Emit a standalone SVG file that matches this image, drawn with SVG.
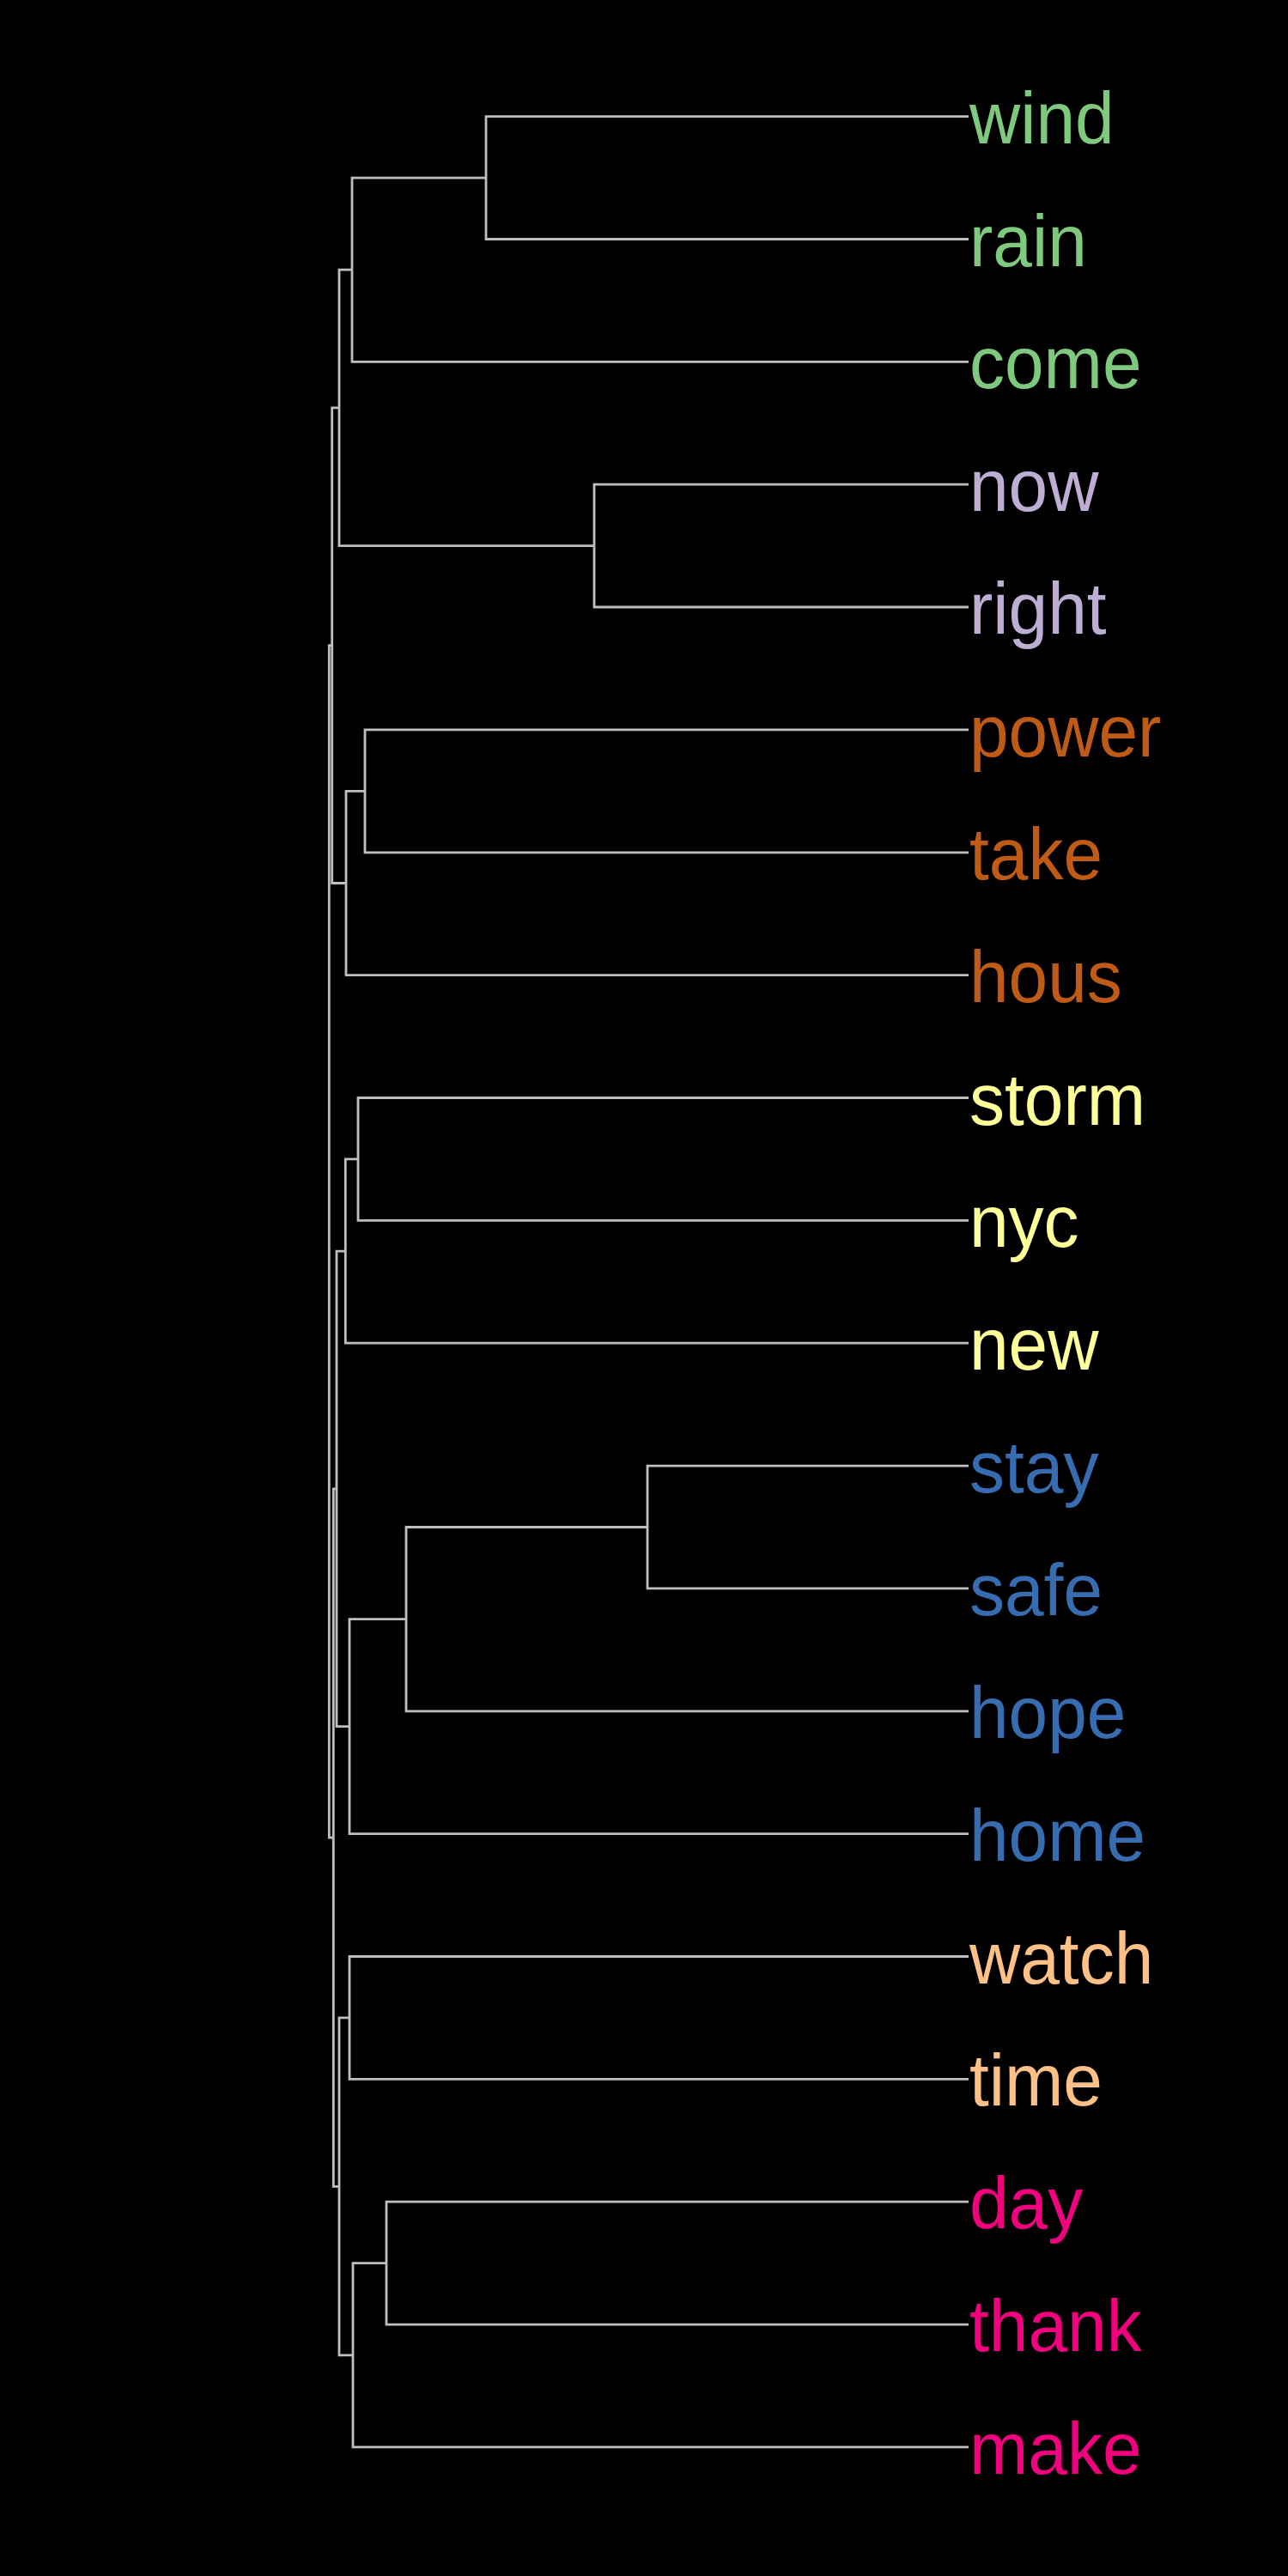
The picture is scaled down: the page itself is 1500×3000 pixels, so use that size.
<svg xmlns="http://www.w3.org/2000/svg" width="1500" height="3000" viewBox="0 0 1500 3000">
<style>
.link{fill:none;stroke:#BFBFBF;stroke-width:2.8;stroke-linejoin:miter}
.lbl{font-family:"Liberation Sans",Arial,Helvetica,sans-serif;font-size:85px}
.g1{fill:#7FC97F}.g2{fill:#BEAED4}.g3{fill:#BF5B17}.g4{fill:#FFFF99}.g5{fill:#386CB0}.g6{fill:#FDC086}.g7{fill:#F0027F}
</style>
<rect x="0" y="0" width="1500" height="3000" fill="#000000"/>
<g id="connectors">
<path class="link" d="M1128 135.6 H566 V278.5 H1128"/>
<path class="link" d="M566 207.05 H410 V421.3 H1128"/>
<path class="link" d="M1128 564.2 H692 V707 H1128"/>
<path class="link" d="M410 314.2 H395 V635.6 H692"/>
<path class="link" d="M1128 849.9 H425 V992.8 H1128"/>
<path class="link" d="M425 921.35 H403 V1135.6 H1128"/>
<path class="link" d="M395 474.9 H386.7 V1028.5 H403"/>
<path class="link" d="M1128 1278.5 H417 V1421.3 H1128"/>
<path class="link" d="M417 1349.9 H402.3 V1564.2 H1128"/>
<path class="link" d="M1128 1707.1 H754 V1849.9 H1128"/>
<path class="link" d="M754 1778.5 H473 V1992.8 H1128"/>
<path class="link" d="M473 1885.65 H407 V2135.6 H1128"/>
<path class="link" d="M402.3 1457.05 H392 V2010.6 H407"/>
<path class="link" d="M1128 2278.5 H407 V2421.4 H1128"/>
<path class="link" d="M1128 2564.2 H450 V2707.1 H1128"/>
<path class="link" d="M450 2635.65 H411 V2849.9 H1128"/>
<path class="link" d="M407 2349.95 H395 V2742.8 H411"/>
<path class="link" d="M392 1733.8 H388.3 V2546.4 H395"/>
<path class="link" d="M386.7 751.7 H383.3 V2140.1 H388.3"/>
</g>
<g id="leaf-wind"><text class="lbl g1" transform="translate(1129 166.6) scale(0.965 1)">wind</text></g>
<g id="leaf-rain"><text class="lbl g1" transform="translate(1129 309.5) scale(0.965 1)">rain</text></g>
<g id="leaf-come"><text class="lbl g1" transform="translate(1129 452.3) scale(0.965 1)">come</text></g>
<g id="leaf-now"><text class="lbl g2" transform="translate(1129 595.2) scale(0.965 1)">now</text></g>
<g id="leaf-right"><text class="lbl g2" transform="translate(1129 738) scale(0.965 1)">right</text></g>
<g id="leaf-power"><text class="lbl g3" transform="translate(1129 880.9) scale(0.965 1)">power</text></g>
<g id="leaf-take"><text class="lbl g3" transform="translate(1129 1023.8) scale(0.965 1)">take</text></g>
<g id="leaf-hous"><text class="lbl g3" transform="translate(1129 1166.6) scale(0.965 1)">hous</text></g>
<g id="leaf-storm"><text class="lbl g4" transform="translate(1129 1309.5) scale(0.965 1)">storm</text></g>
<g id="leaf-nyc"><text class="lbl g4" transform="translate(1129 1452.3) scale(0.965 1)">nyc</text></g>
<g id="leaf-new"><text class="lbl g4" transform="translate(1129 1595.2) scale(0.965 1)">new</text></g>
<g id="leaf-stay"><text class="lbl g5" transform="translate(1129 1738.1) scale(0.965 1)">stay</text></g>
<g id="leaf-safe"><text class="lbl g5" transform="translate(1129 1880.9) scale(0.965 1)">safe</text></g>
<g id="leaf-hope"><text class="lbl g5" transform="translate(1129 2023.8) scale(0.965 1)">hope</text></g>
<g id="leaf-home"><text class="lbl g5" transform="translate(1129 2166.6) scale(0.965 1)">home</text></g>
<g id="leaf-watch"><text class="lbl g6" transform="translate(1129 2309.5) scale(0.965 1)">watch</text></g>
<g id="leaf-time"><text class="lbl g6" transform="translate(1129 2452.4) scale(0.965 1)">time</text></g>
<g id="leaf-day"><text class="lbl g7" transform="translate(1129 2595.2) scale(0.965 1)">day</text></g>
<g id="leaf-thank"><text class="lbl g7" transform="translate(1129 2738.1) scale(0.965 1)">thank</text></g>
<g id="leaf-make"><text class="lbl g7" transform="translate(1129 2880.9) scale(0.965 1)">make</text></g>
</svg>
